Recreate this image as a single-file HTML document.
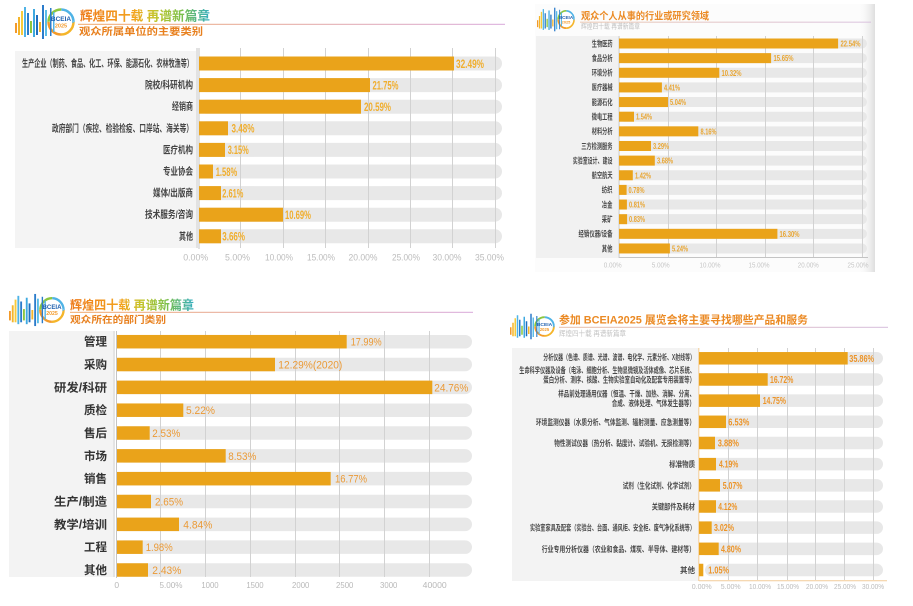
<!DOCTYPE html>
<html><head><meta charset="utf-8">
<style>
html,body{margin:0;padding:0;background:#fff;}
svg{display:block;font-family:"Liberation Sans","Noto Sans CJK SC",sans-serif;}
.tr{fill:#e8e8e8}
.br{fill:#EAA31A}
.g{stroke:#d2d2d2;stroke-width:1}
.ax{stroke:#c4c4c4;stroke-width:1}
.c1{font-size:10px;font-weight:bold;fill:#444;text-anchor:end}
.v1{font-size:12px;font-weight:bold;fill:#F0AE2E}
.t1{font-size:9.5px;fill:#bcbcbc;text-anchor:middle}
.c2{font-size:8px;font-weight:bold;fill:#4a4a4a;text-anchor:end}
.v2{font-size:8.5px;font-weight:bold;fill:#E9A530}
.t2{font-size:7.5px;fill:#c6c6c6;text-anchor:middle}
.c3{font-size:11.5px;font-weight:bold;fill:#333;text-anchor:end}
.v3{font-size:11px;fill:#EB9A36}
.t3{font-size:8.5px;fill:#b8b8b8;text-anchor:middle}
.c4{font-size:8px;font-weight:bold;fill:#4a4a4a;text-anchor:end}
.v4{font-size:10px;font-weight:bold;fill:#EC9428}
.t4{font-size:7.5px;fill:#bbb;text-anchor:middle}
.lgB{font-weight:bold;fill:#1E5FAE;text-anchor:middle}
.lg2{font-weight:bold;fill:#F39A2A;text-anchor:middle}
</style></head><body>
<svg width="913" height="606" viewBox="0 0 913 606" xmlns="http://www.w3.org/2000/svg">
<defs>
<linearGradient id="tg" x1="0" y1="0" x2="1" y2="0">
<stop offset="0" stop-color="#EE7A1C"/><stop offset="0.42" stop-color="#F3A41E"/><stop offset="0.58" stop-color="#C2C52A"/><stop offset="0.78" stop-color="#7CC04A"/><stop offset="1" stop-color="#35AEC2"/>
</linearGradient>
<linearGradient id="lnA" x1="0" y1="0" x2="1" y2="0">
<stop offset="0" stop-color="#F0A868"/><stop offset="1" stop-color="#D8A8DA"/>
</linearGradient>
<linearGradient id="lnB" x1="0" y1="0" x2="1" y2="0">
<stop offset="0" stop-color="#E8C0A8"/><stop offset="1" stop-color="#D6BCDC"/>
</linearGradient>
<linearGradient id="shR" x1="0" y1="0" x2="1" y2="0">
<stop offset="0" stop-color="#ffffff" stop-opacity="0"/><stop offset="1" stop-color="#dedede"/>
</linearGradient>
<symbol id="lg" viewBox="0 0 60 36" preserveAspectRatio="none">
<rect x="0" y="19" width="2" height="10" fill="#F39A2A"/>
<rect x="3" y="13" width="2" height="18" fill="#F5B52A"/>
<rect x="6" y="7" width="2" height="24" fill="#F7CB3A"/>
<rect x="9" y="3" width="2" height="30" fill="#4FB3E6"/>
<rect x="12" y="9" width="2" height="22" fill="#2B7CCB"/>
<rect x="15" y="17" width="2" height="12" fill="#8CC63F"/>
<rect x="18" y="5" width="2" height="28" fill="#3FA9E0"/>
<rect x="21" y="11" width="2" height="20" fill="#1F6FBF"/>
<rect x="24" y="18" width="2" height="10" fill="#F5B52A"/>
<rect x="27" y="1" width="2" height="34" fill="#2B7CCB"/>
<rect x="30" y="6" width="2" height="26" fill="#5BBDE8"/>
<circle cx="46" cy="18" r="12.5" fill="#fff" stroke="#F5B52A" stroke-width="2.5" stroke-dasharray="19.6 58.9"/>
<circle cx="46" cy="18" r="12.5" fill="none" stroke="#F39A2A" stroke-width="2.5" stroke-dasharray="19.6 58.9" stroke-dashoffset="-19.6"/>
<circle cx="46" cy="18" r="12.5" fill="none" stroke="#8CC63F" stroke-width="2.5" stroke-dasharray="19.6 58.9" stroke-dashoffset="-39.3"/>
<circle cx="46" cy="18" r="12.5" fill="none" stroke="#4FB3E6" stroke-width="2.5" stroke-dasharray="19.6 58.9" stroke-dashoffset="-58.9"/>
<rect x="35" y="4" width="1.5" height="28" fill="#2B7CCB"/>
<rect x="38" y="8" width="1.5" height="20" fill="#4FB3E6"/>
</symbol>
</defs>

<!-- ================= CHART 1 ================= -->
<use href="#lg" x="15" y="4" width="60" height="36"/>
<text x="61" y="21" class="lgB" font-size="6.5">BCEIA</text>
<text x="61" y="27.5" class="lg2" font-size="5.5">2025</text>
<text x="80" y="20.5" font-size="13" font-weight="bold" fill="url(#tg)" textLength="130" lengthAdjust="spacingAndGlyphs">辉煌四十载 再谱新篇章</text>
<rect x="78" y="23.8" width="427" height="1" fill="url(#lnA)"/>
<text x="79" y="35" font-size="10" font-weight="bold" fill="#E8801E" textLength="124" lengthAdjust="spacingAndGlyphs">观众所属单位的主要类别</text>

<rect x="15" y="51" width="182" height="197" fill="#f4f4f4"/>
<rect x="196" y="48" width="2" height="200" fill="#e2e2e2"/>
<g class="tr">
<rect x="199" y="56.5" width="303" height="14" rx="7"/>
<rect x="199" y="78.1" width="303" height="14" rx="7"/>
<rect x="199" y="99.7" width="303" height="14" rx="7"/>
<rect x="199" y="121.3" width="303" height="14" rx="7"/>
<rect x="199" y="142.9" width="303" height="14" rx="7"/>
<rect x="199" y="164.5" width="303" height="14" rx="7"/>
<rect x="199" y="186.1" width="303" height="14" rx="7"/>
<rect x="199" y="207.7" width="303" height="14" rx="7"/>
<rect x="199" y="229.3" width="303" height="14" rx="7"/>
</g>
<g class="g">
<line x1="240.5" y1="48" x2="240.5" y2="248"/><line x1="283.5" y1="48" x2="283.5" y2="248"/>
<line x1="325.5" y1="48" x2="325.5" y2="248"/><line x1="368.5" y1="48" x2="368.5" y2="248"/>
<line x1="410.5" y1="48" x2="410.5" y2="248"/><line x1="452.5" y1="48" x2="452.5" y2="248"/>
<line x1="495.5" y1="48" x2="495.5" y2="248"/>
</g>
<line x1="199" y1="48" x2="199" y2="249" class="ax"/>
<g class="br">
<rect x="199" y="56.5" width="255" height="14"/>
<rect x="199" y="78.1" width="171" height="14"/>
<rect x="199" y="99.7" width="162" height="14"/>
<rect x="199" y="121.3" width="29" height="14"/>
<rect x="199" y="142.9" width="26" height="14"/>
<rect x="199" y="164.5" width="14" height="14"/>
<rect x="199" y="186.1" width="22" height="14"/>
<rect x="199" y="207.7" width="84" height="14"/>
<rect x="199" y="229.3" width="22" height="14"/>
</g>
<g class="v1">
<text x="456" y="67.8" textLength="28" lengthAdjust="spacingAndGlyphs">32.49%</text>
<text x="372.5" y="89.4" textLength="26" lengthAdjust="spacingAndGlyphs">21.75%</text>
<text x="364" y="111" textLength="27" lengthAdjust="spacingAndGlyphs">20.59%</text>
<text x="231.5" y="132.6" textLength="23" lengthAdjust="spacingAndGlyphs">3.48%</text>
<text x="227.7" y="154.2" textLength="21" lengthAdjust="spacingAndGlyphs">3.15%</text>
<text x="215.7" y="175.8" textLength="21.5" lengthAdjust="spacingAndGlyphs">1.58%</text>
<text x="222.3" y="197.4" textLength="21" lengthAdjust="spacingAndGlyphs">2.61%</text>
<text x="285" y="219" textLength="26" lengthAdjust="spacingAndGlyphs">10.69%</text>
<text x="222.3" y="240.6" textLength="22.7" lengthAdjust="spacingAndGlyphs">3.66%</text>
</g>
<g class="c1">
<text x="193" y="67" textLength="171" lengthAdjust="spacingAndGlyphs">生产企业（制药、食品、化工、环保、能源石化、农林牧渔等）</text>
<text x="193" y="88.6" textLength="48" lengthAdjust="spacingAndGlyphs">院校/科研机构</text>
<text x="193" y="110.2" textLength="21" lengthAdjust="spacingAndGlyphs">经销商</text>
<text x="193" y="131.8" textLength="141" lengthAdjust="spacingAndGlyphs">政府部门（疾控、检验检疫、口岸站、海关等）</text>
<text x="193" y="153.4" textLength="30" lengthAdjust="spacingAndGlyphs">医疗机构</text>
<text x="193" y="175" textLength="30" lengthAdjust="spacingAndGlyphs">专业协会</text>
<text x="193" y="196.6" textLength="40" lengthAdjust="spacingAndGlyphs">媒体/出版商</text>
<text x="193" y="218.2" textLength="48" lengthAdjust="spacingAndGlyphs">技术服务/咨询</text>
<text x="193" y="239.8" textLength="14" lengthAdjust="spacingAndGlyphs">其他</text>
</g>
<g class="t1">
<text x="195.7" y="260.5" textLength="25" lengthAdjust="spacingAndGlyphs">0.00%</text>
<text x="237.5" y="260.5" textLength="25" lengthAdjust="spacingAndGlyphs">5.00%</text>
<text x="279" y="260.5" textLength="28" lengthAdjust="spacingAndGlyphs">10.00%</text>
<text x="321" y="260.5" textLength="28" lengthAdjust="spacingAndGlyphs">15.00%</text>
<text x="363" y="260.5" textLength="29" lengthAdjust="spacingAndGlyphs">20.00%</text>
<text x="406" y="260.5" textLength="28" lengthAdjust="spacingAndGlyphs">25.00%</text>
<text x="447" y="260.5" textLength="29" lengthAdjust="spacingAndGlyphs">30.00%</text>
<text x="489.5" y="260.5" textLength="29" lengthAdjust="spacingAndGlyphs">35.00%</text>
</g>

<!-- ================= CHART 2 ================= -->
<rect x="535" y="4" width="340" height="268" fill="#fcfcfc"/>
<rect x="857" y="4" width="18" height="268" fill="url(#shR)"/>
<use href="#lg" x="537" y="7" width="38" height="25"/>
<text x="566" y="19" class="lgB" font-size="4.6">BCEIA</text>
<text x="566" y="23.5" class="lg2" font-size="3.9">2025</text>
<text x="581" y="19.5" font-size="10" font-weight="bold" fill="#EB8A24" textLength="128" lengthAdjust="spacingAndGlyphs">观众个人从事的行业或研究领域</text>
<rect x="580" y="21.7" width="291" height="0.9" fill="url(#lnB)"/>
<text x="581" y="28.5" font-size="7" fill="#c0c0c0" textLength="59" lengthAdjust="spacingAndGlyphs">辉煌四十载 再谱新篇章</text>

<rect x="536" y="36" width="82" height="222" fill="#f1f1f1"/>
<g class="tr">
<rect x="619" y="38.5" width="248" height="10" rx="5"/>
<rect x="619" y="53.14" width="248" height="10" rx="5"/>
<rect x="619" y="67.78" width="248" height="10" rx="5"/>
<rect x="619" y="82.42" width="248" height="10" rx="5"/>
<rect x="619" y="97.06" width="248" height="10" rx="5"/>
<rect x="619" y="111.7" width="248" height="10" rx="5"/>
<rect x="619" y="126.34" width="248" height="10" rx="5"/>
<rect x="619" y="140.98" width="248" height="10" rx="5"/>
<rect x="619" y="155.62" width="248" height="10" rx="5"/>
<rect x="619" y="170.26" width="248" height="10" rx="5"/>
<rect x="619" y="184.9" width="248" height="10" rx="5"/>
<rect x="619" y="199.54" width="248" height="10" rx="5"/>
<rect x="619" y="214.18" width="248" height="10" rx="5"/>
<rect x="619" y="228.82" width="248" height="10" rx="5"/>
<rect x="619" y="243.46" width="248" height="10" rx="5"/>
</g>
<g class="g">
<line x1="668.5" y1="36" x2="668.5" y2="258"/><line x1="716.5" y1="36" x2="716.5" y2="258"/>
<line x1="765.5" y1="36" x2="765.5" y2="258"/><line x1="813.5" y1="36" x2="813.5" y2="258"/>
<line x1="862.5" y1="36" x2="862.5" y2="258"/>
</g>
<line x1="619" y1="36" x2="619" y2="258" class="ax"/>
<line x1="619" y1="257.5" x2="868" y2="257.5" class="ax"/>
<g class="br">
<rect x="619" y="38.5" width="219.1" height="10"/>
<rect x="619" y="53.14" width="152.1" height="10"/>
<rect x="619" y="67.78" width="100.3" height="10"/>
<rect x="619" y="82.42" width="42.9" height="10"/>
<rect x="619" y="97.06" width="49" height="10"/>
<rect x="619" y="111.7" width="15" height="10"/>
<rect x="619" y="126.34" width="79.3" height="10"/>
<rect x="619" y="140.98" width="32" height="10"/>
<rect x="619" y="155.62" width="35.8" height="10"/>
<rect x="619" y="170.26" width="13.8" height="10"/>
<rect x="619" y="184.9" width="7.6" height="10"/>
<rect x="619" y="199.54" width="7.9" height="10"/>
<rect x="619" y="214.18" width="8.1" height="10"/>
<rect x="619" y="228.82" width="158.4" height="10"/>
<rect x="619" y="243.46" width="50.9" height="10"/>
</g>
<g class="v2">
<text x="840.5" y="46.5" textLength="20" lengthAdjust="spacingAndGlyphs">22.54%</text>
<text x="773.5" y="61.1" textLength="20" lengthAdjust="spacingAndGlyphs">15.65%</text>
<text x="721.5" y="75.8" textLength="20" lengthAdjust="spacingAndGlyphs">10.32%</text>
<text x="664" y="90.4" textLength="16" lengthAdjust="spacingAndGlyphs">4.41%</text>
<text x="670" y="105.1" textLength="16" lengthAdjust="spacingAndGlyphs">5.04%</text>
<text x="636" y="119.7" textLength="16" lengthAdjust="spacingAndGlyphs">1.54%</text>
<text x="700.5" y="134.3" textLength="16" lengthAdjust="spacingAndGlyphs">8.16%</text>
<text x="653" y="149" textLength="16" lengthAdjust="spacingAndGlyphs">3.29%</text>
<text x="657" y="163.6" textLength="16" lengthAdjust="spacingAndGlyphs">3.68%</text>
<text x="635" y="178.3" textLength="16" lengthAdjust="spacingAndGlyphs">1.42%</text>
<text x="628.5" y="192.9" textLength="16" lengthAdjust="spacingAndGlyphs">0.78%</text>
<text x="629" y="207.5" textLength="16" lengthAdjust="spacingAndGlyphs">0.81%</text>
<text x="629" y="222.2" textLength="16" lengthAdjust="spacingAndGlyphs">0.83%</text>
<text x="779.5" y="236.8" textLength="20" lengthAdjust="spacingAndGlyphs">16.30%</text>
<text x="672" y="251.5" textLength="16" lengthAdjust="spacingAndGlyphs">5.24%</text>
</g>
<g class="c2">
<text x="612.5" y="46.3" textLength="20.7" lengthAdjust="spacingAndGlyphs">生物医药</text>
<text x="612.5" y="60.9" textLength="20.7" lengthAdjust="spacingAndGlyphs">食品分析</text>
<text x="612.5" y="75.6" textLength="20.7" lengthAdjust="spacingAndGlyphs">环境分析</text>
<text x="612.5" y="90.2" textLength="20.7" lengthAdjust="spacingAndGlyphs">医疗器械</text>
<text x="612.5" y="104.9" textLength="20.7" lengthAdjust="spacingAndGlyphs">能源石化</text>
<text x="612.5" y="119.5" textLength="20.7" lengthAdjust="spacingAndGlyphs">微电工程</text>
<text x="612.5" y="134.1" textLength="20.7" lengthAdjust="spacingAndGlyphs">材料分析</text>
<text x="612.5" y="148.8" textLength="31.3" lengthAdjust="spacingAndGlyphs">三方检测服务</text>
<text x="612.5" y="163.4" textLength="39.7" lengthAdjust="spacingAndGlyphs">实验室设计、建设</text>
<text x="612.5" y="178.1" textLength="20.7" lengthAdjust="spacingAndGlyphs">航空航天</text>
<text x="612.5" y="192.7" textLength="10.7" lengthAdjust="spacingAndGlyphs">纺织</text>
<text x="612.5" y="207.3" textLength="10.7" lengthAdjust="spacingAndGlyphs">冶金</text>
<text x="612.5" y="222" textLength="10.7" lengthAdjust="spacingAndGlyphs">采矿</text>
<text x="612.5" y="236.6" textLength="34" lengthAdjust="spacingAndGlyphs">经销仪器/设备</text>
<text x="612.5" y="251.3" textLength="10.7" lengthAdjust="spacingAndGlyphs">其他</text>
</g>
<g class="t2">
<text x="612.7" y="267.5" textLength="18" lengthAdjust="spacingAndGlyphs">0.00%</text>
<text x="660.7" y="267.5" textLength="18" lengthAdjust="spacingAndGlyphs">5.00%</text>
<text x="710" y="267.5" textLength="21" lengthAdjust="spacingAndGlyphs">10.00%</text>
<text x="759" y="267.5" textLength="21" lengthAdjust="spacingAndGlyphs">15.00%</text>
<text x="808.3" y="267.5" textLength="21" lengthAdjust="spacingAndGlyphs">20.00%</text>
<text x="858" y="267.5" textLength="21" lengthAdjust="spacingAndGlyphs">25.00%</text>
</g>

<!-- ================= CHART 3 ================= -->
<use href="#lg" x="9" y="293" width="56" height="34"/>
<text x="52" y="309" class="lgB" font-size="6.1">BCEIA</text>
<text x="52" y="315" class="lg2" font-size="5.2">2025</text>
<text x="70" y="309.5" font-size="12.5" font-weight="bold" fill="url(#tg)" textLength="124" lengthAdjust="spacingAndGlyphs">辉煌四十载 再谱新篇章</text>
<rect x="70" y="311.8" width="403" height="1" fill="url(#lnA)"/>
<text x="70" y="323" font-size="9.5" font-weight="bold" fill="#E8801E" textLength="96" lengthAdjust="spacingAndGlyphs">观众所在的部门类别</text>

<rect x="9" y="331" width="104" height="246" fill="#f3f3f3"/>
<rect x="113" y="331" width="2" height="246" fill="#e4e4e4"/>
<g class="tr">
<rect x="117" y="334.95" width="355" height="13.5" rx="6.75"/>
<rect x="117" y="357.78" width="355" height="13.5" rx="6.75"/>
<rect x="117" y="380.61" width="355" height="13.5" rx="6.75"/>
<rect x="117" y="403.44" width="355" height="13.5" rx="6.75"/>
<rect x="117" y="426.27" width="355" height="13.5" rx="6.75"/>
<rect x="117" y="449.1" width="355" height="13.5" rx="6.75"/>
<rect x="117" y="471.93" width="355" height="13.5" rx="6.75"/>
<rect x="117" y="494.76" width="355" height="13.5" rx="6.75"/>
<rect x="117" y="517.59" width="355" height="13.5" rx="6.75"/>
<rect x="117" y="540.42" width="355" height="13.5" rx="6.75"/>
<rect x="117" y="563.25" width="355" height="13.5" rx="6.75"/>
</g>
<g class="g">
<line x1="160.5" y1="331" x2="160.5" y2="577"/><line x1="205.5" y1="331" x2="205.5" y2="577"/>
<line x1="250.5" y1="331" x2="250.5" y2="577"/><line x1="295.5" y1="331" x2="295.5" y2="577"/>
<line x1="339.5" y1="331" x2="339.5" y2="577"/><line x1="384.5" y1="331" x2="384.5" y2="577"/>
<line x1="429.5" y1="331" x2="429.5" y2="577"/>
</g>
<line x1="116.5" y1="331" x2="116.5" y2="578" class="ax"/>
<g class="br">
<rect x="117" y="334.95" width="229.7" height="13.5"/>
<rect x="117" y="357.78" width="158" height="13.5"/>
<rect x="117" y="380.61" width="315.3" height="13.5"/>
<rect x="117" y="403.44" width="66.3" height="13.5"/>
<rect x="117" y="426.27" width="32.7" height="13.5"/>
<rect x="117" y="449.1" width="108.7" height="13.5"/>
<rect x="117" y="471.93" width="213.7" height="13.5"/>
<rect x="117" y="494.76" width="34" height="13.5"/>
<rect x="117" y="517.59" width="62" height="13.5"/>
<rect x="117" y="540.42" width="25.7" height="13.5"/>
<rect x="117" y="563.25" width="31" height="13.5"/>
</g>
<g class="v3">
<text x="350.7" y="345.7" textLength="31" lengthAdjust="spacingAndGlyphs">17.99%</text>
<text x="278.3" y="368.5" textLength="64" lengthAdjust="spacingAndGlyphs">12.29%(2020)</text>
<text x="434.3" y="391.4" textLength="34" lengthAdjust="spacingAndGlyphs">24.76%</text>
<text x="186" y="414.2" textLength="29" lengthAdjust="spacingAndGlyphs">5.22%</text>
<text x="152.3" y="437" textLength="28" lengthAdjust="spacingAndGlyphs">2.53%</text>
<text x="228.3" y="459.9" textLength="28" lengthAdjust="spacingAndGlyphs">8.53%</text>
<text x="335" y="482.7" textLength="32" lengthAdjust="spacingAndGlyphs">16.77%</text>
<text x="155" y="505.5" textLength="28" lengthAdjust="spacingAndGlyphs">2.65%</text>
<text x="183.3" y="528.3" textLength="29" lengthAdjust="spacingAndGlyphs">4.84%</text>
<text x="145.7" y="551.2" textLength="27" lengthAdjust="spacingAndGlyphs">1.98%</text>
<text x="152.3" y="574" textLength="29" lengthAdjust="spacingAndGlyphs">2.43%</text>
</g>
<g class="c3">
<text x="107" y="345.7" textLength="23" lengthAdjust="spacingAndGlyphs">管理</text>
<text x="107" y="368.5" textLength="23" lengthAdjust="spacingAndGlyphs">采购</text>
<text x="107" y="391.4" textLength="53" lengthAdjust="spacingAndGlyphs">研发/科研</text>
<text x="107" y="414.2" textLength="23" lengthAdjust="spacingAndGlyphs">质检</text>
<text x="107" y="437" textLength="23" lengthAdjust="spacingAndGlyphs">售后</text>
<text x="107" y="459.9" textLength="23" lengthAdjust="spacingAndGlyphs">市场</text>
<text x="107" y="482.7" textLength="23" lengthAdjust="spacingAndGlyphs">销售</text>
<text x="107" y="505.5" textLength="53" lengthAdjust="spacingAndGlyphs">生产/制造</text>
<text x="107" y="528.3" textLength="53" lengthAdjust="spacingAndGlyphs">教学/培训</text>
<text x="107" y="551.2" textLength="23" lengthAdjust="spacingAndGlyphs">工程</text>
<text x="107" y="574" textLength="23" lengthAdjust="spacingAndGlyphs">其他</text>
</g>
<g class="t3">
<text x="116.7" y="588">0</text>
<text x="171" y="588" textLength="23" lengthAdjust="spacingAndGlyphs">5.00%</text>
<text x="210" y="588" textLength="17.3" lengthAdjust="spacingAndGlyphs">1000</text>
<text x="255" y="588" textLength="17.3" lengthAdjust="spacingAndGlyphs">1500</text>
<text x="300.7" y="588" textLength="17.3" lengthAdjust="spacingAndGlyphs">2000</text>
<text x="344.7" y="588" textLength="17.3" lengthAdjust="spacingAndGlyphs">2500</text>
<text x="388.7" y="588" textLength="17.3" lengthAdjust="spacingAndGlyphs">3000</text>
<text x="434.7" y="588" textLength="24" lengthAdjust="spacingAndGlyphs">40000</text>
</g>

<!-- ================= CHART 4 ================= -->
<use href="#lg" x="510" y="313" width="45" height="27"/>
<text x="544.5" y="326" class="lgB" font-size="4.9">BCEIA</text>
<text x="544.5" y="331" class="lg2" font-size="4.2">2025</text>
<text x="559" y="323.5" font-size="11" font-weight="bold" fill="#EB8A24" textLength="249" lengthAdjust="spacingAndGlyphs">参加 BCEIA2025 展览会将主要寻找哪些产品和服务</text>
<rect x="559" y="326.8" width="329" height="1" fill="url(#lnB)"/>
<text x="559" y="336" font-size="7.5" fill="#c4c4c4" textLength="67" lengthAdjust="spacingAndGlyphs">辉煌四十载 再谱新篇章</text>

<rect x="512" y="348" width="186" height="233" fill="#f3f3f3"/>
<g class="tr">
<rect x="699" y="352.05" width="184" height="12.5" rx="6.25"/>
<rect x="699" y="373.22" width="184" height="12.5" rx="6.25"/>
<rect x="699" y="394.39" width="184" height="12.5" rx="6.25"/>
<rect x="699" y="415.56" width="184" height="12.5" rx="6.25"/>
<rect x="699" y="436.73" width="184" height="12.5" rx="6.25"/>
<rect x="699" y="457.9" width="184" height="12.5" rx="6.25"/>
<rect x="699" y="479.07" width="184" height="12.5" rx="6.25"/>
<rect x="699" y="500.24" width="184" height="12.5" rx="6.25"/>
<rect x="699" y="521.41" width="184" height="12.5" rx="6.25"/>
<rect x="699" y="542.58" width="184" height="12.5" rx="6.25"/>
<rect x="705" y="563.75" width="178" height="12.5" rx="6.25"/>
</g>
<g class="g">
<line x1="728.5" y1="348" x2="728.5" y2="580"/><line x1="757.5" y1="348" x2="757.5" y2="580"/>
<line x1="787.5" y1="348" x2="787.5" y2="580"/><line x1="815.5" y1="348" x2="815.5" y2="580"/>
<line x1="844.5" y1="348" x2="844.5" y2="580"/><line x1="873.5" y1="348" x2="873.5" y2="580"/>
</g>
<line x1="698.8" y1="348" x2="698.8" y2="581" stroke="#f0c890" stroke-width="1"/>
<line x1="699" y1="580.7" x2="887" y2="580.7" stroke="#f2cc99" stroke-width="1"/>
<g class="br">
<rect x="699" y="352.05" width="148.7" height="12.5"/>
<rect x="699" y="373.22" width="68.7" height="12.5"/>
<rect x="699" y="394.39" width="61" height="12.5"/>
<rect x="699" y="415.56" width="27" height="12.5"/>
<rect x="699" y="436.73" width="16" height="12.5"/>
<rect x="699" y="457.9" width="17" height="12.5"/>
<rect x="699" y="479.07" width="21" height="12.5"/>
<rect x="699" y="500.24" width="17" height="12.5"/>
<rect x="699" y="521.41" width="12.7" height="12.5"/>
<rect x="699" y="542.58" width="19.7" height="12.5"/>
<rect x="699" y="563.75" width="4.3" height="12.5"/>
</g>
<g class="v4">
<text x="849.3" y="361.8" textLength="24.7" lengthAdjust="spacingAndGlyphs">35.86%</text>
<text x="770" y="383" textLength="23.3" lengthAdjust="spacingAndGlyphs">16.72%</text>
<text x="762.7" y="404.1" textLength="23.3" lengthAdjust="spacingAndGlyphs">14.75%</text>
<text x="728.3" y="425.3" textLength="21" lengthAdjust="spacingAndGlyphs">6.53%</text>
<text x="717.7" y="446.5" textLength="21.3" lengthAdjust="spacingAndGlyphs">3.88%</text>
<text x="719" y="467.7" textLength="19.3" lengthAdjust="spacingAndGlyphs">4.19%</text>
<text x="722.7" y="488.8" textLength="19.7" lengthAdjust="spacingAndGlyphs">5.07%</text>
<text x="718.3" y="510" textLength="19" lengthAdjust="spacingAndGlyphs">4.12%</text>
<text x="714" y="531.2" textLength="20" lengthAdjust="spacingAndGlyphs">3.02%</text>
<text x="721" y="552.3" textLength="20" lengthAdjust="spacingAndGlyphs">4.80%</text>
<text x="708.3" y="573.5" textLength="20.7" lengthAdjust="spacingAndGlyphs">1.05%</text>
</g>
<g class="c4">
<text x="695" y="360" textLength="151.7" lengthAdjust="spacingAndGlyphs">分析仪器（色谱、质谱、光谱、波谱、电化学、元素分析、X射线等）</text>
<text x="695" y="373" textLength="175.7" lengthAdjust="spacingAndGlyphs">生命科学仪器及设备（电泳、细胞分析、生物显微镜及活体成像、芯片系统、</text>
<text x="695" y="382.5" textLength="151.7" lengthAdjust="spacingAndGlyphs">蛋白分析、测序、核酸、生物实验室自动化及配套专用装置等）</text>
<text x="695" y="396.3" textLength="136.7" lengthAdjust="spacingAndGlyphs">样品前处理通用仪器（恒温、干燥、加热、消解、分离、</text>
<text x="695" y="406" textLength="83.3" lengthAdjust="spacingAndGlyphs">合成、液体处理、气体发生器等）</text>
<text x="695" y="424.8" textLength="159" lengthAdjust="spacingAndGlyphs">环境监测仪器（水质分析、气体监测、辐射测量、应急测量等）</text>
<text x="695" y="446" textLength="140.7" lengthAdjust="spacingAndGlyphs">物性测试仪器（热分析、黏度计、试验机、无损检测等）</text>
<text x="695" y="467.2" textLength="25.7" lengthAdjust="spacingAndGlyphs">标准物质</text>
<text x="695" y="488.3" textLength="72.3" lengthAdjust="spacingAndGlyphs">试剂（生化试剂、化学试剂）</text>
<text x="695" y="509.5" textLength="43.3" lengthAdjust="spacingAndGlyphs">关键部件及耗材</text>
<text x="695" y="530.7" textLength="165" lengthAdjust="spacingAndGlyphs">实验室家具及配套（实验台、台面、通风柜、安全柜、废气净化系统等）</text>
<text x="695" y="551.8" textLength="153.3" lengthAdjust="spacingAndGlyphs">行业专用分析仪器（农业和食品、煤炭、半导体、建材等）</text>
<text x="695" y="573" textLength="15" lengthAdjust="spacingAndGlyphs">其他</text>
</g>
<g class="t4">
<text x="701.7" y="589" textLength="20" lengthAdjust="spacingAndGlyphs">0.00%</text>
<text x="730.7" y="589" textLength="20" lengthAdjust="spacingAndGlyphs">5.00%</text>
<text x="760" y="589" textLength="22" lengthAdjust="spacingAndGlyphs">10.00%</text>
<text x="788" y="589" textLength="22" lengthAdjust="spacingAndGlyphs">15.00%</text>
<text x="817" y="589" textLength="22" lengthAdjust="spacingAndGlyphs">20.00%</text>
<text x="845" y="589" textLength="22" lengthAdjust="spacingAndGlyphs">25.00%</text>
<text x="873" y="589" textLength="22" lengthAdjust="spacingAndGlyphs">30.00%</text>
</g>
</svg>
</body></html>
